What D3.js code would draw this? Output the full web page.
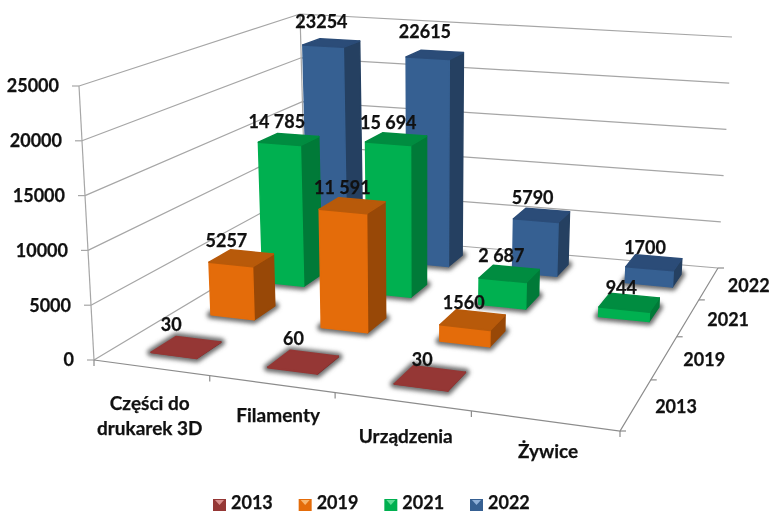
<!DOCTYPE html>
<html>
<head>
<meta charset="utf-8">
<script src="https://cdn.jsdelivr.net/npm/d3@7"></script>
<style>
html, body { margin: 0; padding: 0; background: #fff; }
svg { display: block; filter: blur(0.35px); }
text { font-family: Lato, sans-serif; font-weight: 700; fill: #111; stroke: #111; stroke-width: 0.25px; }
</style>
</head>
<body>
<svg width="771" height="513"></svg>
<script>
var categories = ["Części do drukarek 3D", "Filamenty", "Urządzenia", "Żywice"];
var years = ["2013", "2019", "2021", "2022"];
var ticks = [0, 5000, 10000, 15000, 20000, 25000];

var values2013 = [30, 60, 30, null];
var values2019 = [5257, 11591, 1560, null];
var values2021 = [14785, 15694, 2687, 944];
var values2022 = [23254, 22615, 5790, 1700];

var labels2013 = ["30", "60", "30", ""];
var labels2019 = ["5257", "11 591", "1560", ""];
var labels2021 = ["14 785", "15 694", "2 687", "944"];
var labels2022 = ["23254", "22615", "5790", "1700"];

var seriesValues = [values2013, values2019, values2021, values2022];
var seriesLabels = [labels2013, labels2019, labels2021, labels2022];

var front = ["#953735", "#e46c0a", "#00b050", "#366092"];
var top_ = ["#953735", "#b85a0a", "#008c40", "#2b4c78"];
var side = ["#7a2c2a", "#984807", "#007a38", "#254061"];
var light = ["#d9908e", "#f7b56e", "#5fdc96", "#8fb0d8"];

// hand placed labels, same as in the original chart: [dx, dy] by year and category
var labelNudge = [
    [[-15, 0], [-10, 0], [-8, 5], [0, 0]],
    [[-15, 3], [-10, 2], [-9, 5], [0, 0]],
    [[-12, 1], [-8, 3], [-8, 3], [-8, 7]],
    [[-10, -4], [-10, -5], [-9, 2], [-9, 5]]
];
var catNudge = [[-1, 3], [7, 2], [4, 5], [4, 1]];

var svg = d3.select("svg");

var defs = svg.append("defs");
defs.append("filter").attr("id", "soft")
    .attr("filterUnits", "userSpaceOnUse")
    .attr("x", 0).attr("y", 0).attr("width", 771).attr("height", 513)
    .append("feGaussianBlur").attr("stdDeviation", 2.2);

// corners of the chart box as they land on screen: floor and the 25000 plane
var floorCorners = [[94, 360], [620, 431], [718, 268], [306, 233]];
var topCorners = [[79, 86], [632, 131], [732, 37], [300, 14]];

function homography(c) {
    // unit square to quad
    var dx1 = c[1][0] - c[2][0], dx2 = c[3][0] - c[2][0], sx = c[0][0] - c[1][0] + c[2][0] - c[3][0];
    var dy1 = c[1][1] - c[2][1], dy2 = c[3][1] - c[2][1], sy = c[0][1] - c[1][1] + c[2][1] - c[3][1];
    var den = dx1 * dy2 - dx2 * dy1;
    var g = (sx * dy2 - dx2 * sy) / den;
    var h = (dx1 * sy - sx * dy1) / den;
    var a = c[1][0] - c[0][0] + g * c[1][0], b = c[3][0] - c[0][0] + h * c[3][0];
    var d = c[1][1] - c[0][1] + g * c[1][1], e = c[3][1] - c[0][1] + h * c[3][1];
    return function (u, v) {
        var w = g * u + h * v + 1;
        return [(a * u + b * v + c[0][0]) / w, (d * u + e * v + c[0][1]) / w];
    };
}
var floorMap = homography(floorCorners), topMap = homography(topCorners);

var zScale = d3.scaleLinear().domain([0, 25000]).range([0, 1]);
// bars come out a bit under the wall grid in the original
var barZ = d3.scaleLinear().domain([0, 25000]).range([0, 24625]);
var uScale = d3.scaleBand().domain(categories).range([0, 1]).paddingInner(0.6).paddingOuter(0.3);
var vScale = d3.scaleBand().domain(years).range([0, 1]).paddingInner(0.6).paddingOuter(0.3);

function project(u, v, value) {
    var p0 = floorMap(u, v), p1 = topMap(u, v), t = zScale(value);
    return [p0[0] + (p1[0] - p0[0]) * t, p0[1] + (p1[1] - p0[1]) * t];
}
function poly(pts) { return pts.map(function (p) { return p[0] + "," + p[1]; }).join(" "); }

// walls
var grid = svg.append("g").attr("fill", "none").attr("stroke", "#a6a6a6").attr("stroke-width", 1.2);
ticks.forEach(function (t) {
    grid.append("polyline").attr("points", poly([project(0, 0, t), project(0, 1, t), project(1, 1, t)]));
    var p = project(0, 0, t);
    grid.append("line").attr("x1", p[0] - 7).attr("x2", p[0]).attr("y1", p[1]).attr("y2", p[1]);
    svg.append("text").attr("x", p[0] - 20).attr("y", p[1]).attr("dy", "0.35em")
        .attr("text-anchor", "end").attr("font-size", 18).text(t);
});
grid.append("polyline").attr("points", poly([project(0, 0, 0), project(0, 0, 25000)]));
grid.append("polyline").attr("points", poly([project(0, 1, 0), project(0, 1, 25000)]));
grid.append("polyline").attr("stroke", "#8c8c8c")
    .attr("points", poly([project(0, 0, 0), project(1, 0, 0), project(1, 1, 0)]));

// ticks on the floor edges
d3.range(5).forEach(function (i) {
    var p = project(i * uScale.step(), 0, 0);
    grid.append("line").attr("stroke", "#8c8c8c").attr("x1", p[0]).attr("x2", p[0]).attr("y1", p[1]).attr("y2", p[1] + 6);
    var q = project(1, i * vScale.step(), 0);
    grid.append("line").attr("stroke", "#8c8c8c").attr("x1", q[0]).attr("x2", q[0] + 6).attr("y1", q[1]).attr("y2", q[1]);
});

// axis names
categories.forEach(function (c, i) {
    var p = project((i + 0.5) * uScale.step(), 0, 0);
    var x = p[0] + catNudge[i][0], y = p[1] + catNudge[i][1];
    var t = svg.append("text").attr("text-anchor", "middle").attr("font-size", 19);
    if (i == 0) {
        t.append("tspan").attr("x", x).attr("y", y + 39).text("Części do");
        t.append("tspan").attr("x", x).attr("y", y + 64).text("drukarek 3D");
    } else {
        t.attr("x", x).attr("y", y + 36).text(c);
    }
});
years.forEach(function (y, j) {
    var p = project(1, (j + 0.5) * vScale.step(), 0);
    svg.append("text").attr("x", p[0] + 40).attr("y", p[1] + 2).attr("dy", "0.35em")
        .attr("font-size", 18).attr("text-anchor", "middle").text(y);
});

// bars, back row first
var bars = [];
years.forEach(function (y, j) {
    categories.forEach(function (c, i) {
        if (seriesValues[j][i] != null) {
            bars.push({ j: j, i: i, year: y, cat: c, value: barZ(seriesValues[j][i]), label: seriesLabels[j][i] });
        }
    });
});
bars.sort(function (a, b) { return b.j - a.j || a.i - b.i; });

var barG = svg.append("g").selectAll("g").data(bars).enter().append("g");

function corners(d) {
    var u0 = uScale(d.cat) + 0.008, u1 = u0 + uScale.bandwidth();
    var v0 = vScale(d.year), v1 = v0 + vScale.bandwidth();
    return { u0: u0, u1: u1, v0: v0, v1: v1 };
}

barG.append("polygon")
    .attr("fill", "#6e6e6e").attr("stroke", "#6e6e6e").attr("stroke-width", 8).attr("stroke-linejoin", "round")
    .attr("filter", "url(#soft)")
    .attr("points", function (d) {
        var c = corners(d);
        return poly([project(c.u0, c.v0, 0), project(c.u1, c.v0, 0), project(c.u1, c.v1, 0), project(c.u0, c.v1, 0)]);
    });
function face(fill, pts) {
    barG.append("polygon")
        .attr("fill", function (d) { return fill[d.j]; })
        .attr("stroke", function (d) { return fill[d.j]; })
        .attr("stroke-width", 1.5).attr("stroke-linejoin", "round")
        .attr("points", function (d) { return poly(pts(corners(d), d.value)); });
}
face(side, function (c, z) {
    return [project(c.u1, c.v0, 0), project(c.u1, c.v1, 0), project(c.u1, c.v1, z), project(c.u1, c.v0, z)];
});
face(front, function (c, z) {
    return [project(c.u0, c.v0, 0), project(c.u1, c.v0, 0), project(c.u1, c.v0, z), project(c.u0, c.v0, z)];
});
face(top_, function (c, z) {
    return [project(c.u0, c.v0, z), project(c.u1, c.v0, z), project(c.u1, c.v1, z), project(c.u0, c.v1, z)];
});

// value labels go over all bars
svg.append("g").selectAll("text").data(bars).enter().append("text")
    .attr("text-anchor", "middle").attr("font-size", 18)
    .attr("x", function (d) {
        var c = corners(d);
        return project((c.u0 + c.u1) / 2, (c.v0 + c.v1) / 2, d.value)[0] + labelNudge[d.j][d.i][0];
    })
    .attr("y", function (d) {
        var c = corners(d);
        return project((c.u0 + c.u1) / 2, c.v1, d.value)[1] - 8 + labelNudge[d.j][d.i][1];
    })
    .text(function (d) { return d.label; });

// legend
var legendX = d3.scalePoint().domain(years).range([213, 470]);
var legend = svg.append("g").selectAll("g").data(years).enter().append("g")
    .attr("transform", function (d) { return "translate(" + legendX(d) + ",0)"; });
legend.append("rect").attr("y", 499).attr("width", 13).attr("height", 12)
    .attr("fill", function (d, i) { return front[i]; });
legend.append("polygon").attr("points", "2,500 11,500 6.5,505")
    .attr("fill", function (d, i) { return light[i]; });
legend.append("text").attr("x", 18).attr("y", 509).attr("font-size", 18).text(function (d) { return d; });
</script>
</body>
</html>
